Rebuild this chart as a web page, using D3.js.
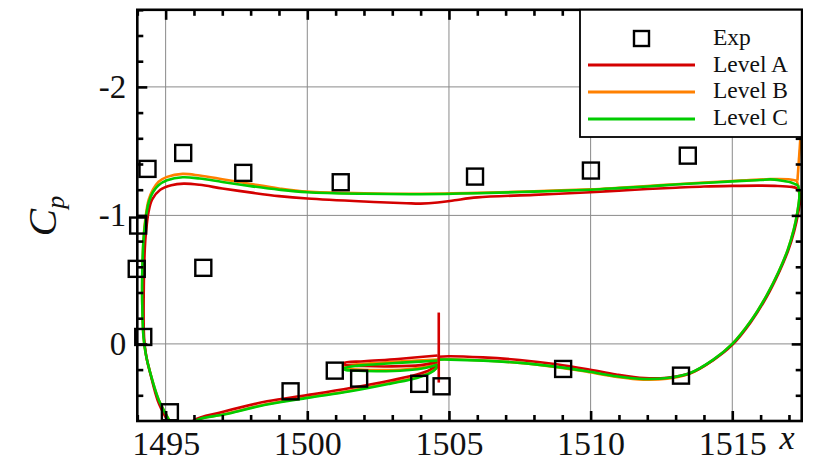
<!DOCTYPE html>
<html>
<head>
<meta charset="utf-8">
<script src="https://cdn.jsdelivr.net/npm/d3@7"></script>
<style>
  body { margin: 0; background: #fff; }
  svg text { fill: #111; }
</style>
</head>
<body>
<div id="chart"></div>
<script>
// data declaration
const w = 815;
const h = 463;
const plot = { left: 137.3, right: 801.7, top: 9.8, bottom: 421 };
const serif = "Liberation Serif, Times New Roman, Times, Nimbus Roman, Tinos, FreeSerif, DejaVu Serif, Noto Serif, serif";

const xMajor = [1495, 1500, 1505, 1510, 1515];
const xMinor = [1494, 1496, 1497, 1498, 1499, 1501, 1502, 1503, 1504, 1506, 1507, 1508, 1509, 1511, 1512, 1513, 1514, 1516, 1517];
const yMajor = [-2, -1, 0];
const yMinor = [-2.6, -2.4, -2.2, -1.8, -1.6, -1.4, -1.2, -0.8, -0.6, -0.4, -0.2, 0.2, 0.4];
const yLabels = ["-2", "-1", "0"];

const seriesNames = ["Exp", "Level A", "Level B", "Level C"];

// experimental points
const expX  = [1494.36, 1495.62, 1497.74, 1501.18, 1505.92, 1510.01, 1513.43, 1494.03, 1493.98, 1496.33,
               1494.21, 1495.15, 1499.41, 1500.97, 1501.83, 1503.95, 1504.74, 1509.03, 1513.19];
const expCp = [-1.362, -1.486, -1.331, -1.258, -1.302, -1.349, -1.465, -0.921, -0.584, -0.592,
               -0.054, 0.532, 0.369, 0.208, 0.27, 0.311, 0.33, 0.195, 0.247];

// Level A (red)
const aUpper = [[1517.3,-1.21],[1517.1,-1.222],[1516.5,-1.23],[1516,-1.232],[1515,-1.23],[1514,-1.225],[1513,-1.215],
  [1512,-1.205],[1511,-1.193],[1510,-1.18],[1508,-1.16],[1506,-1.14],[1505.2,-1.118],[1504.6,-1.1],[1504,-1.092],
  [1503.5,-1.095],[1502,-1.108],[1500,-1.131],[1499,-1.15],[1498.1,-1.175],[1497,-1.21],[1496.2,-1.238],[1495.64,-1.247],
  [1495.2,-1.235],[1494.81,-1.2],[1494.52,-1.123],[1494.4,-1.03],[1494.34,-0.94],[1494.28,-0.8],[1494.23,-0.45],
  [1494.24,-0.05],[1494.32,0.1],[1494.47,0.24],[1494.72,0.44],[1495.0,0.57],[1495.25,0.66],[1495.55,0.72],[1495.8,0.66],
  [1496.0,0.594],[1497,0.53],[1498.58,0.447],[1500,0.398],[1501.52,0.343],[1502.93,0.285],[1503.87,0.239],[1504.34,0.2],[1504.58,0.16]];
const aSlot = [[1504.6,0.09],[1503.2,0.117],[1502,0.135],[1501.3,0.148],[1501.32,0.16],[1502,0.172],[1503,0.175],[1504,0.165],[1504.6,0.14]];
const aAft = [[1504.6,0.1],[1505,0.096],[1506.2,0.105],[1507.5,0.125],[1508.8,0.158],[1509.9,0.197],[1510.9,0.238],[1511.9,0.266],
  [1512.7,0.263],[1513.51,0.228],[1514.33,0.126],[1515,0.008],[1515.64,-0.165],[1516.21,-0.365],[1516.64,-0.553],
  [1516.97,-0.725],[1517.19,-0.882],[1517.33,-1.025],[1517.4,-1.15],[1517.3,-1.21]];
const aSpike = [[1504.64,-0.244],[1504.64,0.301]];

// Level B (orange)
const bUpper = [[1517.28,-1.27],[1517.05,-1.28],[1516.34,-1.282],[1515.5,-1.273],[1515,-1.268],[1514,-1.256],[1513,-1.243],
  [1512,-1.228],[1511,-1.215],[1510,-1.203],[1508,-1.188],[1506,-1.175],[1504,-1.168],[1502,-1.172],[1500,-1.185],
  [1499,-1.21],[1498,-1.245],[1497,-1.282],[1496.2,-1.31],[1495.6,-1.323],[1495.05,-1.3],[1494.75,-1.262],[1494.55,-1.2],
  [1494.4,-1.12],[1494.3,-1.0],[1494.22,-0.82],[1494.18,-0.6],[1494.17,-0.45],[1494.18,-0.25],[1494.22,-0.05],
  [1494.3,0.08],[1494.45,0.22],[1494.75,0.433],[1495.05,0.563],[1495.3,0.66],[1495.6,0.72],[1495.9,0.65],[1496.1,0.594],
  [1497.05,0.548],[1498.58,0.468],[1500,0.415],[1501.52,0.364],[1502.93,0.304],[1503.87,0.26],[1504.34,0.222],[1504.55,0.188],[1504.62,0.16]];
const bSlot = [[1504.6,0.121],[1503,0.14],[1502,0.155],[1501.3,0.174],[1501.32,0.19],[1501.6,0.198],[1502.5,0.204],[1503.5,0.197],[1504.2,0.178],[1504.6,0.155]];
const bAft = [[1504.6,0.12],[1505.05,0.12],[1506.22,0.129],[1507.52,0.148],[1508.81,0.181],[1509.87,0.217],[1510.93,0.257],
  [1511.87,0.278],[1512.7,0.27],[1513.51,0.23],[1514.33,0.124],[1515,0],[1515.64,-0.174],[1516.21,-0.376],[1516.64,-0.563],
  [1516.96,-0.734],[1517.17,-0.889],[1517.3,-1.029],[1517.37,-1.161],[1517.3,-1.25],[1517.28,-1.27]];
const bSpike = [[1517.3,-1.27],[1517.42,-1.65]];

// Level C (green)
const cUpper = [[1517.32,-1.235],[1517.2,-1.245],[1517.05,-1.258],[1516.7,-1.272],[1516.34,-1.28],[1516,-1.275],[1515.5,-1.27],
  [1515,-1.265],[1514,-1.252],[1513,-1.24],[1512,-1.225],[1511,-1.212],[1510,-1.2],[1508,-1.185],[1506,-1.172],[1504,-1.165],
  [1502,-1.168],[1500,-1.18],[1499,-1.2],[1498,-1.228],[1497,-1.26],[1496.2,-1.287],[1495.6,-1.297],[1495.05,-1.273],
  [1494.75,-1.235],[1494.55,-1.18],[1494.4,-1.1],[1494.3,-0.98],[1494.22,-0.81],[1494.18,-0.6],[1494.17,-0.45],
  [1494.18,-0.25],[1494.22,-0.05],[1494.3,0.08],[1494.45,0.22],[1494.75,0.433],[1495.05,0.563],[1495.3,0.66],[1495.6,0.72],
  [1495.9,0.65],[1496.1,0.594],[1497.05,0.55],[1498.58,0.472],[1500,0.42],[1501.52,0.369],[1502.93,0.309],[1503.87,0.265],
  [1504.34,0.226],[1504.55,0.19],[1504.62,0.16]];
const cSlot = [[1504.6,0.13],[1504,0.138],[1503,0.15],[1502,0.165],[1501.5,0.178],[1501.3,0.19],[1501.32,0.2],[1501.6,0.207],
  [1502.5,0.213],[1503.5,0.205],[1504.2,0.185],[1504.6,0.16]];
const cAft = [[1504.6,0.122],[1505.05,0.122],[1506.22,0.13],[1507.52,0.148],[1508.81,0.179],[1509.87,0.213],[1510.93,0.252],
  [1511.87,0.273],[1512.7,0.265],[1513.51,0.226],[1514.33,0.122],[1515,0],[1515.64,-0.174],[1516.21,-0.376],[1516.64,-0.563],
  [1516.96,-0.734],[1517.17,-0.889],[1517.3,-1.029],[1517.37,-1.161],[1517.32,-1.235]];

const colors = { a: "#d40000", b: "#ff8000", c: "#00cc00" };

// svg
const svg = d3.select("#chart").append("svg").attr("width", w).attr("height", h);

// scales
const xScale = d3.scaleLinear().domain([1494, 1517.45]).range([plot.left, plot.right]);
const yScale = d3.scaleLinear().domain([-2.6, 0.6]).range([plot.top, plot.bottom]);

svg.append("defs").append("clipPath").attr("id", "clip")
  .append("rect")
  .attr("x", plot.left).attr("y", plot.top)
  .attr("width", plot.right - plot.left).attr("height", plot.bottom - plot.top);

// grid
const grid = svg.append("g").attr("stroke", "#8a8a8a").attr("stroke-width", 1);
grid.selectAll(".gx").data(xMajor).enter().append("line")
  .attr("x1", d => xScale(d)).attr("x2", d => xScale(d))
  .attr("y1", plot.top).attr("y2", plot.bottom);
grid.selectAll(".gy").data(yMajor).enter().append("line")
  .attr("x1", plot.left).attr("x2", plot.right)
  .attr("y1", d => yScale(d)).attr("y2", d => yScale(d));

// curves
const line = d3.line()
  .x(d => xScale(d[0]))
  .y(d => yScale(d[1]))
  .curve(d3.curveCatmullRom.alpha(0.5));

const curves = svg.append("g").attr("clip-path", "url(#clip)").attr("fill", "none")
  .attr("stroke-width", 2.6).attr("stroke-linejoin", "round");

const drawSet = (segs, color) => {
  segs.forEach(s => curves.append("path").attr("d", line(s)).attr("stroke", color));
};
drawSet([bUpper, bSlot, bAft, bSpike], colors.b);
drawSet([aUpper, aSlot, aAft], colors.a);
drawSet([cUpper, cSlot, cAft], colors.c);
drawSet([aSpike], colors.a);

// exp markers
svg.append("g").selectAll("rect")
  .data(expX.map((x, i) => [x, expCp[i]]))
  .enter()
  .append("rect")
  .attr("x", d => xScale(d[0]) - 8)
  .attr("y", d => yScale(d[1]) - 8)
  .attr("width", 16)
  .attr("height", 16)
  .attr("fill", "none")
  .attr("stroke", "#000")
  .attr("stroke-width", 2.4);

// axes (ticks pointing inward on all four sides)
const styleAxis = g => {
  g.select(".domain").remove();
  g.attr("font-family", serif);
  g.selectAll("line").attr("stroke", "#000").attr("stroke-width", 2.6);
};

svg.append("g").attr("transform", `translate(0,${plot.bottom})`)
  .call(d3.axisBottom(xScale).tickValues(xMajor).tickSize(-10).tickPadding(10).tickFormat(d3.format("d")))
  .call(styleAxis)
  .selectAll("text").attr("font-size", 34).attr("fill", "#111");
svg.append("g").attr("transform", `translate(0,${plot.bottom})`)
  .call(d3.axisBottom(xScale).tickValues(xMinor).tickSize(-6).tickFormat(""))
  .call(styleAxis);
svg.append("g").attr("transform", `translate(0,${plot.top})`)
  .call(d3.axisTop(xScale).tickValues(xMajor).tickSize(-10).tickFormat(""))
  .call(styleAxis);
svg.append("g").attr("transform", `translate(0,${plot.top})`)
  .call(d3.axisTop(xScale).tickValues(xMinor).tickSize(-6).tickFormat(""))
  .call(styleAxis);

svg.append("g").attr("transform", `translate(${plot.left},0)`)
  .call(d3.axisLeft(yScale).tickValues(yMajor).tickSize(-10).tickPadding(11).tickFormat((d, i) => yLabels[i]))
  .call(styleAxis)
  .selectAll("text").attr("font-size", 33).attr("fill", "#111");
svg.append("g").attr("transform", `translate(${plot.left},0)`)
  .call(d3.axisLeft(yScale).tickValues(yMinor).tickSize(-6).tickFormat(""))
  .call(styleAxis);
svg.append("g").attr("transform", `translate(${plot.right},0)`)
  .call(d3.axisRight(yScale).tickValues(yMajor).tickSize(-10).tickFormat(""))
  .call(styleAxis);
svg.append("g").attr("transform", `translate(${plot.right},0)`)
  .call(d3.axisRight(yScale).tickValues(yMinor).tickSize(-6).tickFormat(""))
  .call(styleAxis);

// frame
svg.append("rect")
  .attr("x", plot.left).attr("y", plot.top)
  .attr("width", plot.right - plot.left).attr("height", plot.bottom - plot.top)
  .attr("fill", "none").attr("stroke", "#000").attr("stroke-width", 2.6);

// axis titles
const yTitle = svg.append("text")
  .attr("transform", "translate(56,216) rotate(-90)")
  .attr("text-anchor", "middle")
  .attr("font-family", serif)
  .attr("font-size", 41).attr("font-style", "italic");
yTitle.append("tspan").text("C");
yTitle.append("tspan").text("p").attr("dy", 8).attr("font-size", 26);

svg.append("text")
  .attr("x", 787).attr("y", 449)
  .attr("text-anchor", "middle")
  .attr("font-family", serif)
  .attr("font-size", 34).attr("font-style", "italic")
  .text("x");

// legend
const legend = svg.append("g").attr("id", "legend");
legend.append("rect")
  .attr("x", 580).attr("y", plot.top).attr("width", plot.right - 580).attr("height", 137 - plot.top)
  .attr("fill", "#fff").attr("stroke", "#000").attr("stroke-width", 1.8);
legend.append("rect")
  .attr("x", 634).attr("y", 31).attr("width", 15).attr("height", 15)
  .attr("fill", "none").attr("stroke", "#000").attr("stroke-width", 2.4);
const legendLines = [colors.a, colors.b, colors.c];
legendLines.forEach((c, i) => {
  legend.append("line")
    .attr("x1", 588).attr("x2", 695)
    .attr("y1", 65 + i * 27).attr("y2", 65 + i * 27)
    .attr("stroke", c).attr("stroke-width", 2.8);
});
legend.selectAll(".lt").data(seriesNames).enter().append("text")
  .attr("x", 713)
  .attr("y", (d, i) => 45 + i * 26.6)
  .attr("font-family", serif)
  .attr("font-size", 23.5)
  .text(d => d);
</script>
</body>
</html>
